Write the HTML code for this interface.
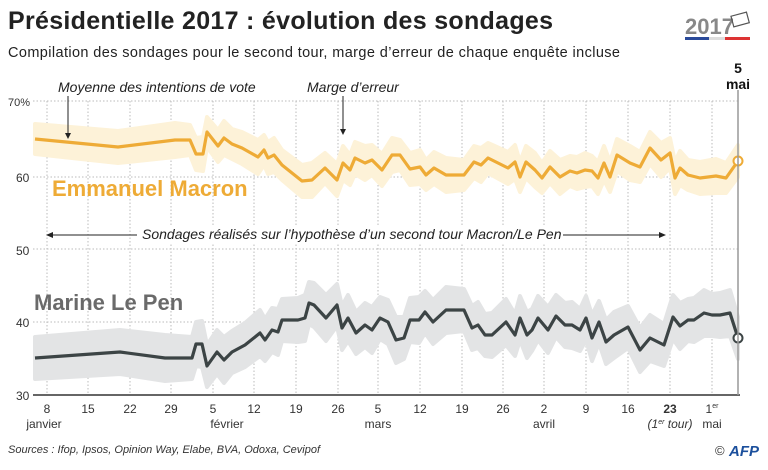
<!DOCTYPE html>
<html><head><meta charset="utf-8"><style>
body{margin:0;background:#fff;width:768px;height:465px;overflow:hidden;font-family:"Liberation Sans",sans-serif}
</style></head><body>
<svg id="s" width="768" height="465" xmlns="http://www.w3.org/2000/svg" font-family="Liberation Sans, sans-serif">
<text x="8" y="29" font-size="25" font-weight="bold" fill="#222" textLength="545">Présidentielle 2017 : évolution des sondages</text>
<text x="8" y="57" font-size="14.5" fill="#222" textLength="612">Compilation des sondages pour le second tour, marge d’erreur de chaque enquête incluse</text>
<text x="685" y="34" font-size="22" font-weight="bold" fill="#888">2017</text>
<rect x="685" y="37" width="24" height="3" fill="#2a4a9a"/><rect x="709" y="37" width="16" height="3" fill="#ddd"/><rect x="725" y="37" width="25" height="3" fill="#d33"/>
<rect x="732" y="14" width="16" height="11" fill="none" stroke="#555" stroke-width="1.2" transform="rotate(-15 740 19)"/>
<g id="grid"></g>
<g id="bands"></g>
<g id="lines"></g>
<text x="8" y="106" font-size="11" fill="#333">70%</text>
<text x="16" y="182" font-size="12" fill="#333">60</text>
<text x="16" y="255" font-size="12" fill="#333">50</text>
<text x="16" y="327" font-size="12" fill="#333">40</text>
<text x="16" y="400" font-size="12" fill="#333">30</text>
<line x1="33" y1="395" x2="740" y2="395" stroke="#333" stroke-width="1.5"/>
<line x1="738" y1="90" x2="738" y2="395" stroke="#999" stroke-width="1.5"/>
<text x="738" y="73" font-size="14" font-weight="bold" text-anchor="middle" fill="#111">5</text>
<text x="738" y="89" font-size="14" font-weight="bold" text-anchor="middle" fill="#111">mai</text>
<text x="58" y="92" font-size="14" font-style="italic" fill="#222">Moyenne des intentions de vote</text>
<line x1="68" y1="96" x2="68" y2="135" stroke="#222"/><path d="M65,133 L71,133 L68,139Z" fill="#222"/>
<text x="307" y="92" font-size="14" font-style="italic" fill="#222">Marge d’erreur</text>
<line x1="343" y1="96" x2="343" y2="131" stroke="#222"/><path d="M340,129 L346,129 L343,135Z" fill="#222"/>
<text x="52" y="196" font-size="22" font-weight="bold" fill="#eeab36">Emmanuel Macron</text>
<text x="34" y="310" font-size="22" font-weight="bold" fill="#6a6a6a">Marine Le Pen</text>
<rect x="138" y="225" width="424" height="18" fill="#fff"/>
<text x="142" y="239" font-size="14" font-style="italic" fill="#222">Sondages réalisés sur l’hypothèse d’un second tour Macron/Le Pen</text>
<line x1="52" y1="235" x2="137" y2="235" stroke="#222"/><path d="M46,235 L53,232 L53,238Z" fill="#222"/>
<line x1="563" y1="235" x2="660" y2="235" stroke="#222"/><path d="M666,235 L659,232 L659,238Z" fill="#222"/>
<g id="xl" font-size="12" fill="#333" text-anchor="middle"></g>
<text x="44" y="428" font-size="12" text-anchor="middle" fill="#333">janvier</text>
<text x="227" y="428" font-size="12" text-anchor="middle" fill="#333">février</text>
<text x="378" y="428" font-size="12" text-anchor="middle" fill="#333">mars</text>
<text x="544" y="428" font-size="12" text-anchor="middle" fill="#333">avril</text>
<text x="670" y="428" font-size="12" font-style="italic" text-anchor="middle" fill="#333">(1<tspan font-size="7" dy="-4">er</tspan><tspan dy="4"> tour)</tspan></text>
<text x="712" y="428" font-size="12" text-anchor="middle" fill="#333">mai</text>
<text x="8" y="453" font-size="11" font-style="italic" fill="#333">Sources : Ifop, Ipsos, Opinion Way, Elabe, BVA, Odoxa, Cevipof</text>
<text x="715" y="455" font-size="13" fill="#333">©</text>
<text x="729" y="456" font-size="15" font-weight="bold" font-style="italic" fill="#1b4f9c">AFP</text>
</svg>
<script>
var NS="http://www.w3.org/2000/svg";
function el(p,t,a){var e=document.createElementNS(NS,t);for(var k in a)e.setAttribute(k,a[k]);document.getElementById(p).appendChild(e);return e;}
var xs=[47,88,130,171,213,254,296,338,378,420,462,503,544,586,628,670,712];
var labs=["8","15","22","29","5","12","19","26","5","12","19","26","2","9","16","23","1"];
[101,177,249,322].forEach(function(y){el("grid","line",{x1:33,y1:y,x2:738,y2:y,stroke:"#bbb","stroke-dasharray":"1.5,2"});});
xs.forEach(function(x,i){el("grid","line",{x1:x,y1:101,x2:x,y2:395,stroke:"#bbb","stroke-dasharray":"1.5,2"});
var t=el("xl","text",{x:x,y:413});t.textContent=labs[i];if(i==15)t.setAttribute("font-weight","bold");
if(i==16){var s=document.createElementNS(NS,"tspan");s.setAttribute("font-size","7");s.setAttribute("dy","-5");s.textContent="er";t.appendChild(s);}});
var M="35,139 118,147 175,140 190,140 196,154 203,154 207,132 218,146 224,138 232,144 242,148 258,157 264,150 268,158 274,155 282,165 302,181 312,180 325,168 337,180 343,163 350,170 355,158 365,163 372,160 382,170 392,155 400,155 410,169 420,167 426,175 434,168 446,175 464,175 474,162 481,165 488,158 508,168 515,162 520,177 526,162 535,170 542,178 550,167 560,177 570,171 577,173 585,170 592,171 598,178 604,163 610,177 617,155 630,163 640,167 650,148 661,160 670,153 675,178 680,168 688,175 700,178 716,176 726,178 738,161";
var L="35,358 120,352 165,358 192,358 196,344 202,344 207,366 217,352 224,360 232,352 245,345 260,333 265,340 272,330 278,332 282,320 298,320 305,318 309,303 314,305 326,318 337,305 342,328 348,318 356,333 365,325 372,330 380,318 388,322 396,340 404,338 410,320 419,320 425,312 433,322 446,310 464,310 472,328 478,325 485,335 492,335 506,322 515,335 520,318 527,335 532,330 538,318 548,330 556,316 565,325 572,325 580,330 586,318 592,338 599,322 606,342 614,335 628,327 640,350 650,338 664,345 673,317 680,326 688,320 694,320 704,313 712,315 720,315 730,313 738,338";
function band(str,w,col){var p=str.split(" ").map(function(s){return s.split(",").map(Number);});
var up=[],dn=[];p.forEach(function(q,i){var ww=w+((i*7)%3)-1;up.push(q[0]+","+(q[1]-ww));dn.unshift(q[0]+","+(q[1]+ww));});
el("bands","polygon",{points:up.concat(dn).join(" "),fill:col,stroke:col,"stroke-width":4,"stroke-linejoin":"round"});}
band(M,16,"#fdf2d8");band(L,22,"#e3e4e5");
el("lines","polyline",{points:M,fill:"none",stroke:"#eeab36","stroke-width":3.2,"stroke-linejoin":"round"});
el("lines","polyline",{points:L,fill:"none",stroke:"#3c4445","stroke-width":3.2,"stroke-linejoin":"round"});
el("lines","circle",{cx:738,cy:161,r:4.5,fill:"#fff",stroke:"#eeab36","stroke-width":2});
el("lines","circle",{cx:738,cy:338,r:4.5,fill:"#fff",stroke:"#3c4445","stroke-width":2});
</script>
</body></html>
